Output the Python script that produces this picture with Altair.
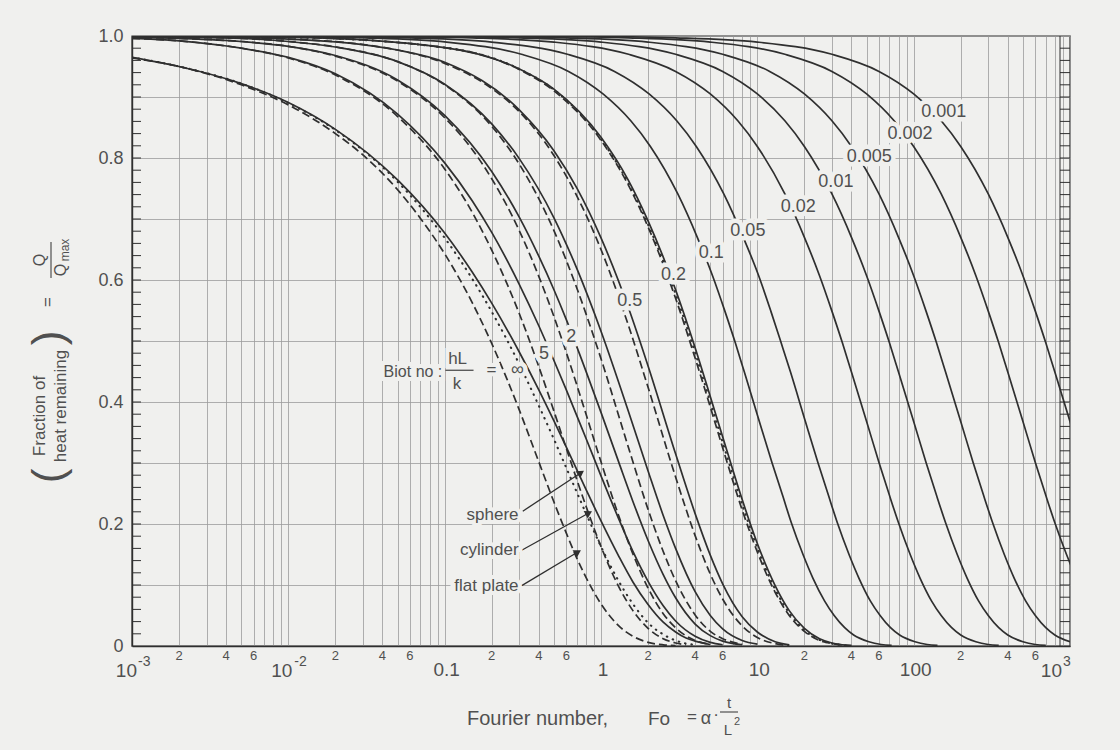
import altair as alt
import pandas as pd

# ---------------------------------------------------------------- layout / style
W, H = 938, 610
LEFT, TOP = 132, 36
INK = "#2f2f2f"
TXT = "#505050"
GRID = "#9c9c9c"
BG = "#f0f0ee"
FONT = "Liberation Sans"

# ---------------------------------------------------------------- curve data
# Small Biot numbers: plate, cylinder and sphere coincide, one solid curve each.
q_lumped = [1.0, 0.999, 0.997, 0.990, 0.970, 0.942, 0.905, 0.861, 0.819, 0.741,
            0.670, 0.607, 0.549, 0.497, 0.449, 0.368, 0.301, 0.247, 0.202, 0.150,
            0.111, 0.074, 0.050, 0.030, 0.018, 0.007, 0.0025, 0.0009]
fo_bi_0001 = [0.001, 1, 3, 10, 30, 60, 100, 150, 200, 300, 400, 500, 600, 700, 800, 1000,
              1200, 1400, 1600, 1900, 2200, 2600, 3000, 3500, 4000, 5000, 6000, 7000]
fo_bi_0002 = [0.001, 0.5, 1.5, 5, 15, 30, 50, 75, 100, 150, 200, 250, 300, 350, 400, 500,
              600, 700, 800, 950, 1100, 1300, 1500, 1750, 2000, 2500, 3000, 3500]
fo_bi_0005 = [0.001, 0.2, 0.6, 2, 6, 12, 20, 30, 40, 60, 80, 100, 120, 140, 160, 200,
              240, 280, 320, 380, 440, 520, 600, 700, 800, 1000, 1200, 1400]
fo_bi_001 = [0.001, 0.1, 0.3, 1, 3, 6, 10, 15, 20, 30, 40, 50, 60, 70, 80, 100,
             120, 140, 160, 190, 220, 260, 300, 350, 400, 500, 600, 700]
fo_bi_002 = [0.001, 0.05, 0.15, 0.5, 1.5, 3, 5, 7.5, 10, 15, 20, 25, 30, 35, 40, 50,
             60, 70, 80, 95, 110, 130, 150, 175, 200, 250, 300, 350]
fo_bi_005 = [0.001, 0.02, 0.061, 0.2, 0.61, 1.22, 2.03, 3.05, 4.07, 6.1, 8.13, 10.2, 12.2, 14.2, 16.3, 20.3,
             24.4, 28.5, 32.5, 38.6, 44.7, 52.8, 61, 71.1, 81.3, 102, 122, 142]
fo_bi_01 = [0.001, 0.0103, 0.031, 0.103, 0.31, 0.62, 1.03, 1.55, 2.07, 3.1, 4.13, 5.17, 6.2, 7.23, 8.26, 10.3,
            12.4, 14.5, 16.5, 19.6, 22.7, 26.9, 31, 36.2, 41.3, 51.7, 62, 72.3]

# Bi = 0.2 : three shapes almost on top of each other
fo_bi_02 = [0.001, 0.01, 0.1, 0.3, 0.5, 1.0, 1.5, 2.0, 3.0, 4.0, 5.0, 6.0, 8.0, 10, 13, 16, 20, 25, 30, 40]
q_bi_02_plate = [1.0, 0.998, 0.981, 0.945, 0.910, 0.829, 0.755, 0.687, 0.570, 0.472, 0.392, 0.325,
                 0.223, 0.154, 0.088, 0.050, 0.024, 0.009, 0.004, 0.0005]
q_bi_02_cyl = [1.0, 0.998, 0.981, 0.946, 0.912, 0.831, 0.758, 0.691, 0.577, 0.481, 0.400, 0.334,
               0.232, 0.161, 0.093, 0.054, 0.026, 0.010, 0.004, 0.0007]
q_bi_02_sph = [1.0, 0.998, 0.981, 0.946, 0.913, 0.834, 0.763, 0.697, 0.584, 0.489, 0.409, 0.343,
               0.240, 0.168, 0.099, 0.058, 0.029, 0.012, 0.005, 0.0008]

# Bi = 0.5
fo_bi_05_plate = [0.001, 0.01, 0.05, 0.1, 0.2, 0.3, 0.5, 0.7, 1.0, 1.5, 2.0, 3.0, 4.0, 5.0, 6.0, 8.0, 10, 13, 16]
q_bi_05_plate = [1.0, 0.995, 0.977, 0.955, 0.914, 0.876, 0.804, 0.738, 0.650, 0.525, 0.424, 0.277,
                 0.181, 0.118, 0.077, 0.033, 0.014, 0.004, 0.001]
fo_bi_05_sph = [0.001, 0.01, 0.05, 0.1, 0.3, 0.5, 0.7, 1.0, 1.5, 2.0, 3.0, 4.0, 5.0, 6.0, 8.0, 10, 13, 16]
q_bi_05_sph = [1.0, 0.995, 0.977, 0.957, 0.879, 0.812, 0.751, 0.669, 0.554, 0.459, 0.315, 0.217,
               0.149, 0.102, 0.048, 0.023, 0.007, 0.002]

# Bi = 1
fo_bi_1_plate = [0.001, 0.005, 0.01, 0.02, 0.05, 0.1, 0.2, 0.3, 0.5, 0.7, 1.0, 1.5, 2.0, 2.5, 3.0, 4.0, 5.0, 6.0, 8.0]
q_bi_1_plate = [0.999, 0.996, 0.991, 0.982, 0.958, 0.920, 0.852, 0.790, 0.681, 0.587, 0.471, 0.325,
                0.224, 0.155, 0.107, 0.051, 0.024, 0.012, 0.003]
fo_bi_1_sph = [0.001, 0.005, 0.01, 0.02, 0.05, 0.1, 0.2, 0.3, 0.5, 0.7, 1.0, 1.5, 2.0, 2.5, 3.0, 4.0, 5.0, 6.0, 8.0, 10]
q_bi_1_sph = [0.999, 0.996, 0.991, 0.982, 0.958, 0.921, 0.856, 0.799, 0.702, 0.619, 0.516, 0.384,
              0.287, 0.214, 0.160, 0.089, 0.050, 0.028, 0.009, 0.003]

# Bi = 2
fo_bi_2_plate = [0.001, 0.002, 0.005, 0.01, 0.02, 0.05, 0.1, 0.15, 0.2, 0.3, 0.4, 0.5, 0.6, 0.8, 1.0,
                 1.3, 1.6, 2.0, 2.5, 3.0, 4.0, 5.0]
q_bi_2_plate = [0.998, 0.996, 0.991, 0.983, 0.967, 0.926, 0.866, 0.814, 0.766, 0.681, 0.606, 0.540,
                0.481, 0.381, 0.302, 0.213, 0.151, 0.095, 0.053, 0.030, 0.009, 0.003]
fo_bi_2_sph = [0.001, 0.002, 0.005, 0.01, 0.02, 0.05, 0.1, 0.2, 0.3, 0.4, 0.5, 0.6, 0.8, 1.0, 1.3,
               1.6, 2.0, 2.5, 3.0, 4.0, 5.0, 6.0, 8.0]
q_bi_2_sph = [0.998, 0.996, 0.991, 0.983, 0.968, 0.928, 0.870, 0.778, 0.703, 0.639, 0.584, 0.535,
              0.451, 0.383, 0.301, 0.237, 0.173, 0.117, 0.079, 0.036, 0.017, 0.008, 0.002]

# Bi = 5
fo_bi_5_plate = [0.001, 0.002, 0.005, 0.01, 0.02, 0.05, 0.1, 0.15, 0.2, 0.3, 0.4, 0.5, 0.6, 0.8, 1.0,
                 1.3, 1.6, 2.0, 2.5, 3.0, 3.5]
q_bi_5_plate = [0.996, 0.992, 0.980, 0.964, 0.936, 0.868, 0.782, 0.711, 0.649, 0.545, 0.458, 0.385,
                0.324, 0.230, 0.163, 0.097, 0.058, 0.029, 0.012, 0.005, 0.002]
fo_bi_5_sph = [0.001, 0.002, 0.005, 0.01, 0.02, 0.05, 0.1, 0.15, 0.2, 0.3, 0.4, 0.5, 0.6, 0.8, 1.0,
               1.3, 1.6, 2.0, 2.5, 3.0, 4.0, 5.0, 6.0]
q_bi_5_sph = [0.996, 0.992, 0.980, 0.965, 0.938, 0.872, 0.792, 0.730, 0.678, 0.593, 0.525, 0.468,
              0.420, 0.341, 0.279, 0.208, 0.155, 0.106, 0.066, 0.041, 0.016, 0.006, 0.002]

# Bi = infinity
fo_inf_plate = [0.001, 0.002, 0.005, 0.01, 0.02, 0.03, 0.05, 0.07, 0.1, 0.15, 0.2, 0.25, 0.3, 0.4,
                0.5, 0.6, 0.7, 0.8, 1.0, 1.3, 1.6, 2.0, 2.5, 3.0]
q_inf_plate = [0.964, 0.950, 0.920, 0.887, 0.840, 0.805, 0.748, 0.701, 0.643, 0.563, 0.496, 0.438,
               0.387, 0.302, 0.236, 0.185, 0.144, 0.113, 0.069, 0.033, 0.016, 0.006, 0.002, 0.0007]
fo_inf_cyl = [0.001, 0.002, 0.005, 0.01, 0.02, 0.05, 0.1, 0.15, 0.2, 0.3, 0.4, 0.5, 0.6, 0.8, 1.0,
              1.3, 1.6, 2.0, 2.5, 3.0, 3.5, 4.0]
q_inf_cyl = [0.965, 0.950, 0.922, 0.890, 0.846, 0.761, 0.669, 0.602, 0.548, 0.462, 0.394, 0.339,
             0.292, 0.218, 0.163, 0.106, 0.069, 0.038, 0.019, 0.009, 0.004, 0.002]
fo_inf_sph = [0.001, 0.002, 0.005, 0.01, 0.02, 0.05, 0.1, 0.15, 0.2, 0.3, 0.4, 0.5, 0.6, 0.8, 1.0,
              1.3, 1.6, 2.0, 2.5, 3.0, 3.5, 4.0, 5.0]
q_inf_sph = [0.965, 0.950, 0.922, 0.891, 0.847, 0.764, 0.677, 0.613, 0.562, 0.482, 0.420, 0.369,
             0.326, 0.257, 0.205, 0.147, 0.105, 0.068, 0.039, 0.023, 0.013, 0.008, 0.0025]

series = [
    ("0.001", "solid", fo_bi_0001, q_lumped),
    ("0.002", "solid", fo_bi_0002, q_lumped),
    ("0.005", "solid", fo_bi_0005, q_lumped),
    ("0.01", "solid", fo_bi_001, q_lumped),
    ("0.02", "solid", fo_bi_002, q_lumped),
    ("0.05", "solid", fo_bi_005, q_lumped),
    ("0.1", "solid", fo_bi_01, q_lumped),
    ("0.2 plate", "dashed", fo_bi_02, q_bi_02_plate),
    ("0.2 cylinder", "dotted", fo_bi_02, q_bi_02_cyl),
    ("0.2 sphere", "solid", fo_bi_02, q_bi_02_sph),
    ("0.5 plate", "dashed", fo_bi_05_plate, q_bi_05_plate),
    ("0.5 sphere", "solid", fo_bi_05_sph, q_bi_05_sph),
    ("1 plate", "dashed", fo_bi_1_plate, q_bi_1_plate),
    ("1 sphere", "solid", fo_bi_1_sph, q_bi_1_sph),
    ("2 plate", "dashed", fo_bi_2_plate, q_bi_2_plate),
    ("2 sphere", "solid", fo_bi_2_sph, q_bi_2_sph),
    ("5 plate", "dashed", fo_bi_5_plate, q_bi_5_plate),
    ("5 sphere", "solid", fo_bi_5_sph, q_bi_5_sph),
    ("inf plate", "dashed", fo_inf_plate, q_inf_plate),
    ("inf cylinder", "dotted", fo_inf_cyl, q_inf_cyl),
    ("inf sphere", "solid", fo_inf_sph, q_inf_sph),
]
curves = pd.DataFrame(
    [{"curve": name, "style": style, "Fo": f, "Q": q}
     for name, style, fos, qs in series for f, q in zip(fos, qs)]
)

# Biot-number labels written on the curves
bi_labels = ["0.001", "0.002", "0.005", "0.01", "0.02", "0.05", "0.1", "0.2", "0.5", "2", "5", "∞"]
bi_label_fo = [155.6, 94.8, 52.0, 31.8, 18.3, 8.7, 5.07, 2.91, 1.53, 0.646, 0.432, 0.292]
bi_label_q = [0.876, 0.840, 0.801, 0.761, 0.719, 0.680, 0.644, 0.608, 0.565, 0.507, 0.479, 0.452]

# shape call-outs with arrows
shape_names = ["sphere", "cylinder", "flat plate"]
shape_text_fo = [0.297, 0.297, 0.297]
shape_text_q = [0.214, 0.157, 0.099]
arrow_tail_fo = [0.316, 0.311, 0.311]
arrow_tail_q = [0.221, 0.157, 0.099]
arrow_tip_fo = [0.744, 0.836, 0.711]
arrow_tip_q = [0.284, 0.218, 0.154]
arrow_angle = [326, 331, 329]

# axis tick labels and grid positions
x_plain_pos = [0.1, 1, 10, 100]
x_plain_txt = ["0.1", "1", "10", "100"]
x_exp_pos = [0.001, 0.01, 1000]
x_exp_sup = ["-3", "-2", "3"]
x_minor_pos = [0.002, 0.004, 0.006, 0.02, 0.04, 0.06, 0.2, 0.4, 0.6,
               2, 4, 6, 20, 40, 60, 200, 400, 600]
x_minor_txt = ["2", "4", "6"] * 6
x_grid = [m * 10.0 ** e for e in range(-3, 3) for m in range(1, 10)] + [1000.0]
y_grid = [round(0.1 * i, 1) for i in range(11)]
y_minor = [round(0.02 * i, 2) for i in range(1, 50)]

# ---------------------------------------------------------------- scales / axes
x_scale = alt.Scale(type="log", domain=[0.001, 1000], nice=False)
y_scale = alt.Scale(domain=[0, 1], nice=False, zero=False)
x_axis = alt.Axis(values=x_grid, grid=True, gridColor=GRID, gridWidth=0.8, labels=False,
                  ticks=False, domain=True, domainColor=INK, domainWidth=1.4, title=None)
y_axis = alt.Axis(values=y_grid, grid=True, gridColor=GRID, gridWidth=0.8, ticks=False,
                  domain=True, domainColor=INK, domainWidth=1.4, title=None,
                  labelExpr="datum.value == 0 ? '0' : (round(datum.value * 10) % 2 == 0 ? format(datum.value, '.1f') : '')",
                  labelFont=FONT, labelFontSize=18, labelColor=TXT, labelPadding=9)
X = alt.X("Fo:Q", scale=x_scale, axis=x_axis)
Y = alt.Y("Q:Q", scale=y_scale, axis=y_axis)


def curve_layer(style, **mark):
    return (alt.Chart(curves).transform_filter(alt.datum.style == style)
            .mark_line(color=INK, interpolate="monotone", clip=True, **mark)
            .encode(x=X, y=Y, detail="curve:N", order="Fo:Q"))


solid = curve_layer("solid", strokeWidth=1.7)
dashed = curve_layer("dashed", strokeWidth=1.7, strokeDash=[8, 4])
dotted = curve_layer("dotted", strokeWidth=2.1, strokeDash=[0.5, 6], strokeCap="round")

# ticks along the left edge and the ruler on the right edge
ticks_df = pd.DataFrame({"Q": y_minor})
left_ticks = alt.Chart(ticks_df).mark_rule(color=INK, strokeWidth=1).encode(
    y=Y, x=alt.value(0), x2=alt.value(9))
right_ticks = alt.Chart(ticks_df).mark_rule(color=INK, strokeWidth=1).encode(
    y=Y, x=alt.value(W - 10), x2=alt.value(W))
right_rail = alt.Chart(ticks_df.head(1)).mark_rule(color=INK, strokeWidth=1).encode(
    x=alt.value(W - 10), y=alt.value(0), y2=alt.value(H))

# curve labels (with a halo so the lines break around them)
lab_df = pd.DataFrame({"Fo": bi_label_fo, "Q": bi_label_q, "t": bi_labels})
lab_halo = alt.Chart(lab_df).mark_text(font=FONT, fontSize=18, stroke=BG, strokeWidth=9,
                                       fill=BG, strokeJoin="round").encode(x=X, y=Y, text="t:N")
lab_text = alt.Chart(lab_df).mark_text(font=FONT, fontSize=18, color=TXT).encode(x=X, y=Y, text="t:N")

# Biot-number annotation: "Biot no : hL/k ="
biot_df = pd.DataFrame({"Fo": [0.0966], "Q": [0.450], "t": ["Biot no :"]})
biot_halo = alt.Chart(biot_df).mark_text(font=FONT, fontSize=16, align="right", stroke=BG,
                                         strokeWidth=8, fill=BG).encode(x=X, y=Y, text="t:N")
biot_text = alt.Chart(biot_df).mark_text(font=FONT, fontSize=16, align="right", color=TXT).encode(
    x=X, y=Y, text="t:N")
frac_df = pd.DataFrame({"Fo": [0.121, 0.120, 0.199], "Q": [0.470, 0.430, 0.452], "t": ["hL", "k", "="]})
frac_halo = alt.Chart(frac_df).mark_text(font=FONT, fontSize=17, stroke=BG, strokeWidth=8,
                                         fill=BG).encode(x=X, y=Y, text="t:N")
frac_text = alt.Chart(frac_df).mark_text(font=FONT, fontSize=17, color=TXT).encode(x=X, y=Y, text="t:N")
bar_df = pd.DataFrame({"Fo": [0.101], "Fo2": [0.153], "Q": [0.452]})
frac_bar = alt.Chart(bar_df).mark_rule(color=TXT, strokeWidth=1.3).encode(x=X, x2="Fo2:Q", y=Y)

# shape call-outs
shape_df = pd.DataFrame({"Fo": shape_text_fo, "Q": shape_text_q, "t": shape_names})
shape_halo = alt.Chart(shape_df).mark_text(font=FONT, fontSize=17, align="right", stroke=BG,
                                           strokeWidth=8, fill=BG).encode(x=X, y=Y, text="t:N")
shape_text = alt.Chart(shape_df).mark_text(font=FONT, fontSize=17, align="right", color=TXT).encode(
    x=X, y=Y, text="t:N")
arrow_df = pd.DataFrame({"Fo": arrow_tail_fo, "Q": arrow_tail_q, "Fo2": arrow_tip_fo,
                         "Q2": arrow_tip_q, "ang": arrow_angle})
arrow_shaft = alt.Chart(arrow_df).mark_rule(color=INK, strokeWidth=1.3).encode(
    x=X, y=Y, x2="Fo2:Q", y2="Q2:Q")
arrow_head = alt.Chart(arrow_df).mark_point(shape="triangle-right", filled=True, color=INK,
                                            size=70, opacity=1).encode(
    x=alt.X("Fo2:Q", scale=x_scale, axis=x_axis), y=alt.Y("Q2:Q", scale=y_scale, axis=y_axis),
    angle=alt.Angle("ang:Q", scale=None))

# x tick labels drawn below the axis
minor_df = pd.DataFrame({"Fo": x_minor_pos, "t": x_minor_txt})
minor_text = alt.Chart(minor_df).mark_text(font=FONT, fontSize=13, color=TXT).encode(
    x=X, y=alt.value(H + 10), text="t:N")
plain_df = pd.DataFrame({"Fo": x_plain_pos, "t": x_plain_txt})
plain_text = alt.Chart(plain_df).mark_text(font=FONT, fontSize=19, color=TXT, dx=2).encode(
    x=X, y=alt.value(H + 24), text="t:N")


def power_label(i, dx_base, dx_sup):
    d = pd.DataFrame({"Fo": [x_exp_pos[i]], "b": ["10"], "s": [x_exp_sup[i]]})
    base = alt.Chart(d).mark_text(font=FONT, fontSize=19, color=TXT, align="right", dx=dx_base).encode(
        x=X, y=alt.value(H + 25), text="b:N")
    sup = alt.Chart(d).mark_text(font=FONT, fontSize=14, color=TXT, align="left", dx=dx_sup).encode(
        x=X, y=alt.value(H + 16), text="s:N")
    return [base, sup]


power_labels = power_label(0, 5, 6) + power_label(1, 4, 6) + power_label(2, -8, -7)


# axis titles
def label(t, x, y, size=17, angle=None, align="center"):
    kw = dict(font=FONT, fontSize=size, color=TXT, align=align, baseline="middle")
    if angle is not None:
        kw["angle"] = angle
    return alt.Chart(pd.DataFrame({"t": [t]})).mark_text(**kw).encode(
        x=alt.value(x), y=alt.value(y), text="t:N")


titles = [
    label("Fourier number,", 335, 683, size=20, align="left"),
    label("Fo", 516, 683, size=19, align="left"),
    label("=", 560, 681),
    label("α", 574, 683, size=18),
    label("·", 584, 679),
    label("t", 597, 667, size=15),
    label("L", 596, 694, size=15),
    label("2", 605, 686, size=11),
    label("Fraction of", -92, 380, angle=270),
    label("heat remaining", -71, 370, angle=270),
    label("(", -82, 440, size=44, angle=270),
    label(")", -82, 302, size=44, angle=270),
    label("=", -84, 266, angle=270),
    label("Q", -92, 224, size=16, angle=270),
    label("Q", -71, 234, size=16, angle=270),
    label("max", -67, 214, size=12, angle=270),
]
title_bars = [
    alt.Chart(pd.DataFrame({"a": [0]})).mark_rule(color=TXT, strokeWidth=1.2).encode(
        x=alt.value(588), x2=alt.value(606), y=alt.value(676)),
    alt.Chart(pd.DataFrame({"a": [0]})).mark_rule(color=TXT, strokeWidth=1.2).encode(
        x=alt.value(-81), y=alt.value(206), y2=alt.value(242)),
]

chart = alt.layer(
    solid, dashed, dotted,
    left_ticks, right_ticks, right_rail,
    lab_halo, lab_text,
    biot_halo, biot_text, frac_halo, frac_text, frac_bar,
    arrow_shaft, arrow_head, shape_halo, shape_text,
    minor_text, plain_text, *power_labels,
    *titles, *title_bars,
).properties(
    width=W, height=H,
    padding={"left": LEFT, "top": TOP, "right": 1120 - LEFT - W, "bottom": 750 - TOP - H},
    autosize=alt.AutoSizeParams(type="none"),
    background=BG,
).configure_view(stroke=INK, strokeWidth=1.4)

chart.save("out.html", embed_options={"renderer": "svg", "actions": False})
